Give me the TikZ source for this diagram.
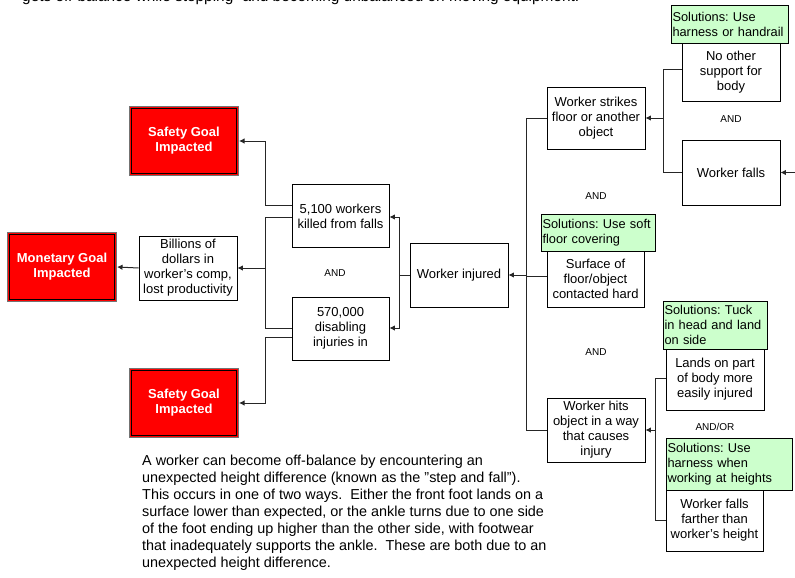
\documentclass[tikz,border=0pt]{standalone}
\usepackage{fontspec}
\setmainfont{Liberation Sans}
\usetikzlibrary{arrows.meta}
\definecolor{solgreen}{HTML}{CCFFCC}
\frenchspacing
\begin{document}
\begin{tikzpicture}[x=1pt,y=-1pt,
  txt/.style={font=\fontsize{13}{15}\selectfont},
  box/.style={txt, draw=black, line width=0.8pt, fill=white, align=center, inner sep=1pt},
  sol/.style={font=\fontsize{12.8}{15}\selectfont\frenchspacing, draw=black, line width=0.8pt, fill=solgreen, align=left, inner sep=1.5pt},
  goal/.style={draw=black!55, fill=red, line width=1pt,
    text=white, align=center, font=\fontsize{13}{15}\selectfont\bfseries,
    minimum width=109pt, minimum height=69pt},
  goalin/.style={draw=black, line width=0.8pt},
  lbl/.style={font=\fontsize{10}{12}\selectfont},
  con/.style={draw=black!85, line width=1pt},
  arr/.style={con, -{Latex[length=5.5pt,width=5.5pt]}}]
\useasboundingbox (0,0) rectangle (795,578);
\clip (0,0) rectangle (795,578);

% top clipped text
\node[anchor=base west, inner sep=0, font=\fontsize{15.4}{17}\selectfont] (toptext) at (22,2)
  {gets off-balance while stepping" and becoming unbalanced on moving equipment.};

% goals
\node[goal] (sg1) at (184,141) {Safety Goal\\Impacted};
\node[goal] (mg) at (62,267) {Monetary Goal\\Impacted};
\node[goal] (sg2) at (184,403) {Safety Goal\\Impacted};
\foreach \g in {sg1,mg,sg2}
  \draw[goalin] ([shift={(2.5,2.5)}]\g.north west) rectangle ([shift={(-2.5,-2.5)}]\g.south east);

% left/middle boxes
\node[box, minimum width=98pt, minimum height=64pt] (bil) at (188,268)
  {Billions of\\dollars in\\worker's comp,\\lost productivity};
\node[box, minimum width=97pt, minimum height=63pt] (k51) at (340.5,216)
  {5,100 workers\\killed from falls};
\node[box, minimum width=97pt, minimum height=63pt] (d57) at (340.5,328.5)
  {570,000\\disabling\\injuries in};
\node[box, minimum width=98pt, minimum height=64pt] (wi) at (459,275) {Worker injured};

% right column
\node[box, minimum width=98pt, minimum height=62pt] (ws) at (596,118)
  {Worker strikes\\floor or another\\object};
\node[box, minimum width=97pt, minimum height=56pt] (surf) at (595.5,279)
  {Surface of\\floor/object\\contacted hard};
\node[sol, minimum width=114pt, minimum height=37pt, text width=111pt] (solsoft) at (598,232.5)
  {Solutions: Use soft\\floor covering};
\node[box, minimum width=98pt, minimum height=64pt] (wh) at (596,430)
  {Worker hits\\object in a way\\that causes\\injury};

% far right
\node[box, minimum width=98pt, minimum height=58pt] (nos) at (731,72)
  {No other\\support for\\body};
\node[sol, minimum width=117pt, minimum height=38pt, text width=114pt] (solh) at (729.5,24)
  {Solutions: Use\\harness or handrail};
\node[box, minimum width=98pt, minimum height=65pt] (wf) at (731,172.5) {Worker falls};
\node[box, minimum width=98pt, minimum height=61pt] (lands) at (715,379.5)
  {Lands on part\\of body more\\easily injured};
\node[sol, minimum width=104pt, minimum height=48pt, text width=101pt] (soltuck) at (715,325)
  {Solutions: Tuck\\in head and land\\on side};
\node[box, minimum width=97pt, minimum height=61pt] (wff) at (714.5,520.5)
  {Worker falls\\farther than\\worker's height};
\node[sol, minimum width=126pt, minimum height=52pt, text width=123pt] (solw) at (729,464)
  {Solutions: Use\\harness when\\working at heights};

% labels
\node[lbl] (and1) at (335,273) {AND};
\node[lbl] (and2) at (596,196) {AND};
\node[lbl] (and3) at (596,352) {AND};
\node[lbl] (and4) at (731,119) {AND};
\node[lbl] (andor) at (715,427) {AND/OR};

% connectors left
\coordinate (jL) at (265,268);
\draw[arr] (k51.west |- 0,205) -- (265,205) |- (sg1.east);
\draw[con] (k51.west |- 0,217) -| (265,328) -- (d57.west |- 0,328);
\draw[arr] (jL) -- (bil.east);
\draw[arr] (d57.west |- 0,337) -- (265,337) |- (sg2.east);
\draw[arr] (bil.west) -- (mg.east);
\draw[arr] (wi.west) -- ++(-10,0) |- (k51.east |- 0,217);
\draw[arr] (wi.west) -- ++(-10,0) |- (d57.east |- 0,328);

% connectors right
\coordinate (jR) at (527,275);
\draw[con] (ws.west) -- ++(-20,0) |- (wh.west);
\draw[con] (surf.west |- 0,276) -- (527,276);
\draw[arr] (jR) -- (wi.east);
\draw[con] (nos.west |- 0,70) -- (663,70) |- (wf.west);
\draw[arr] (663,118) -- (ws.east);
\coordinate (edge) at (795,172.5);
\draw[arr] (edge) -- (wf.east);
\draw[con] (lands.west |- 0,378) -- (655,378) |- (wff.west);
\draw[arr] (655,430) -- (wh.east);

% paragraph
\node[anchor=north west, inner sep=0, align=left, font=\fontsize{14.4}{17}\selectfont] (para) at (142,455)
  {A worker can become off-balance by encountering an\\
   unexpected height difference (known as the "step and fall").\\
   This occurs in one of two ways.~~Either the front foot lands on a\\
   surface lower than expected, or the ankle turns due to one side\\
   of the foot ending up higher than the other side, with footwear\\
   that inadequately supports the ankle.~~These are both due to an\\
   unexpected height difference.};
\end{tikzpicture}
\end{document}
